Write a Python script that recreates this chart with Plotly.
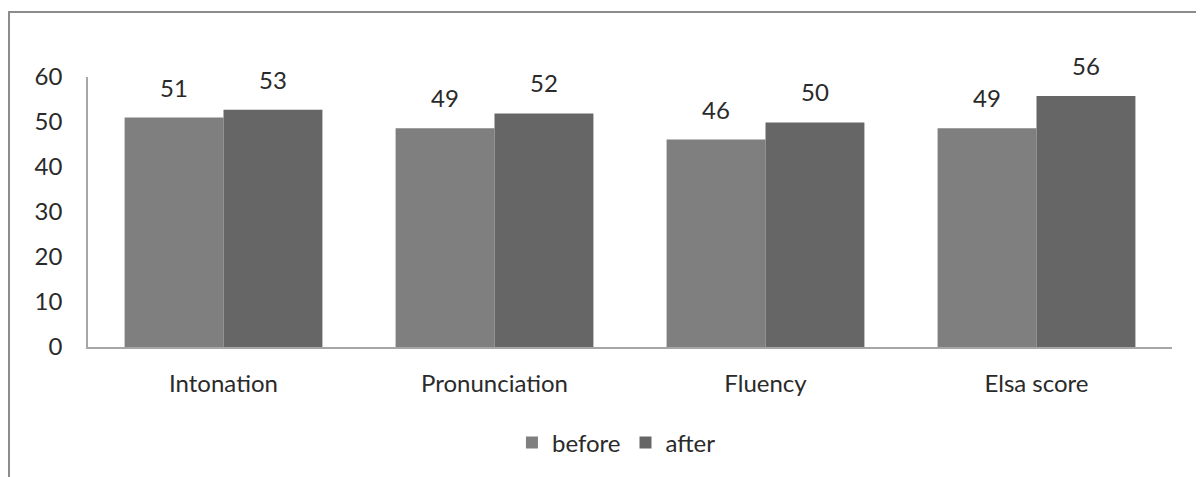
import plotly.graph_objects as go

categories = ["Intonation", "Pronunciation", "Fluency", "Elsa score"]
before = [51.0, 48.6, 46.1, 48.6]
after = [52.7, 51.9, 49.9, 55.8]
series_names = ["before", "after"]
y_ticks = [0, 10, 20, 30, 40, 50, 60]

FONT = "Lato"
FS = 24
TXT = "#2a2a2a"
C_BEFORE = "#7f7f7f"
C_AFTER = "#666666"

fig = go.Figure()
fig.add_trace(go.Bar(name=series_names[0], x=categories, y=before,
                     marker=dict(color=C_BEFORE, line=dict(width=0))))
fig.add_trace(go.Bar(name=series_names[1], x=categories, y=after,
                     marker=dict(color=C_AFTER, line=dict(width=0))))

# page body has an 8px default margin, so the figure is offset by 8px
OFF = 8
W, H = 1204 - OFF, 477 - OFF
L, R, T, B = 88 - OFF, 32, 77 - OFF, 477 - 347
pw = W - L - R
ph = H - T - B
bargap = 0.27
bar_px = pw / len(categories) * (1 - bargap) / 2

annotations = []
for vals, sh in ((before, -bar_px / 2), (after, bar_px / 2)):
    for c, v in zip(categories, vals):
        annotations.append(dict(x=c, y=v, xref="x", yref="y", text=f"{round(v)}",
                                showarrow=False, xshift=sh, yshift=14,
                                yanchor="bottom", font=dict(family=FONT, size=FS, color=TXT)))

def px_x(p):
    return (p - OFF - L) / pw

def px_y(p):
    return (H - B - (p - OFF)) / ph

shapes = [
    dict(type="line", xref="paper", yref="paper", x0=px_x(8), x1=px_x(1215),
         y0=px_y(12), y1=px_y(12), line=dict(color="#8c8c8c", width=2)),
    dict(type="line", xref="paper", yref="paper", x0=px_x(9), x1=px_x(9),
         y0=px_y(12), y1=px_y(490), line=dict(color="#8c8c8c", width=2)),
]

fig.update_layout(
    width=W, height=H,
    margin=dict(l=L, r=R, t=T, b=B),
    paper_bgcolor="white", plot_bgcolor="white",
    barmode="group", bargap=bargap, bargroupgap=0,
    font=dict(family=FONT, size=FS, color=TXT),
    showlegend=True,
    legend=dict(orientation="h", x=0.4875, xanchor="center", y=-0.355, yanchor="middle",
                font=dict(family=FONT, size=FS, color=TXT), traceorder="normal",
                itemwidth=30, tracegroupgap=0),
    annotations=annotations,
    shapes=shapes,
    xaxis=dict(showline=True, linecolor="#a6a6a6", linewidth=1.5, showgrid=False,
               ticks="", ticklabelstandoff=14, tickfont=dict(family=FONT, size=FS, color=TXT),
               zeroline=False),
    yaxis=dict(range=[0, 60], tickvals=y_ticks, showline=True, linecolor="#a6a6a6",
               linewidth=1.5, showgrid=False, ticks="", ticklabelstandoff=19,
               tickfont=dict(family=FONT, size=FS, color=TXT), zeroline=False),
)

fig.write_html("out.html")
